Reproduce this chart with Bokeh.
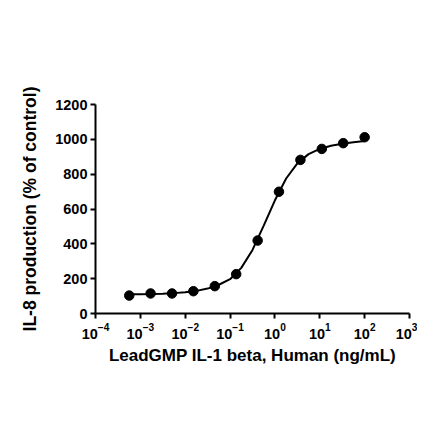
from bokeh.plotting import figure
from bokeh.models import FixedTicker, Range1d, LogTickFormatter
from bokeh.embed import file_html
from bokeh.resources import INLINE

# measured points (ng/mL, % of control)
conc = [0.000565, 0.00169, 0.00508, 0.0152, 0.0457, 0.137, 0.412, 1.23, 3.70, 11.1, 33.3, 100.0]
il8 = [103, 115, 115, 128, 157, 226, 419, 699, 882, 945, 978, 1012]

# fitted curve (log10 concentration, % of control)
fit_log_conc = [-3.25, -3.0, -2.75, -2.5, -2.25, -2.0, -1.75, -1.5, -1.25, -1.0, -0.75,
                -0.5, -0.25, 0.0, 0.25, 0.5, 0.75, 1.0, 1.25, 1.5, 1.75, 2.0]
fit_il8 = [110, 111, 112, 114, 117, 122, 130, 143, 165, 197, 262,
           365, 505, 650, 775, 862, 915, 945, 963, 975, 983, 990]

x_ticks = [1e-4, 1e-3, 1e-2, 1e-1, 1e0, 1e1, 1e2, 1e3]
y_ticks = [0, 200, 400, 600, 800, 1000, 1200]

fit_conc = [10 ** v for v in fit_log_conc]

FONT = "Liberation Sans"

p = figure(width=417, height=422, x_axis_type="log", output_backend="svg",
           toolbar_location=None,
           x_range=Range1d(1e-4, 1e3), y_range=Range1d(0, 1200),
           min_border_left=95, min_border_right=8, min_border_top=104, min_border_bottom=109)
p.outline_line_color = None
p.xgrid.visible = False
p.ygrid.visible = False
p.background_fill_color = "white"
p.border_fill_color = "white"

p.line(fit_conc, fit_il8, line_color="black", line_width=2)
p.scatter(conc, il8, size=9.5, fill_color="black", line_color="black")

for ax in (p.xaxis[0], p.yaxis[0]):
    ax.axis_line_width = 2
    ax.major_tick_line_width = 2
    ax.major_tick_in = 0
    ax.major_tick_out = 5
    ax.minor_tick_line_color = None
    ax.major_label_text_font = FONT
    ax.major_label_text_font_style = "bold"
    ax.major_label_text_font_size = "14.5px"
    ax.major_label_text_color = "black"
    ax.axis_label_text_font = FONT
    ax.axis_label_text_font_style = "bold"
    ax.axis_label_text_color = "black"

p.xaxis.axis_label_text_font_size = "17px"
p.yaxis.axis_label_text_font_size = "17.5px"
p.xaxis.ticker = FixedTicker(ticks=x_ticks)
p.xaxis.formatter = LogTickFormatter()
p.yaxis.ticker = FixedTicker(ticks=y_ticks)
p.xaxis.axis_label = "LeadGMP IL-1 beta, Human (ng/mL)"
p.yaxis.axis_label = "IL-8 production (% of control)"
p.xaxis.axis_label_standoff = 4
p.yaxis.axis_label_standoff = 12
p.xaxis.major_label_standoff = 4
p.yaxis.major_label_standoff = 3

open("out.html", "w").write(file_html(p, INLINE))
